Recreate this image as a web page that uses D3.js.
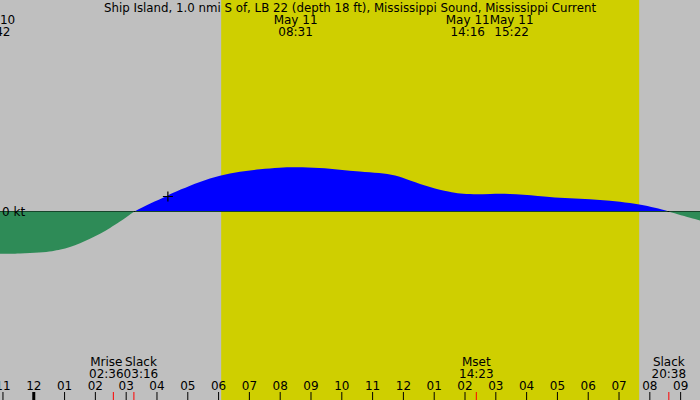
<!DOCTYPE html>
<html>
<head>
<meta charset="utf-8">
<script src="https://cdn.jsdelivr.net/npm/d3@7"></script>
<style>
  body { margin: 0; background: #bfbfbf; }
  svg text { font-family: "DejaVu Sans", sans-serif; font-size: 12px; fill: #000; }
</style>
</head>
<body>
<div id="chart"></div>
<script>
const width = 700;
const height = 400;

const title = "Ship Island, 1.0 nmi S of, LB 22 (depth 18 ft), Mississippi Sound, Mississippi Current";

// current in knots, time in hours from midnight May 11
const hours = [-1.08, -0.43, 0.22, 0.64, 0.87, 1.19, 1.52, 1.84, 2.17, 2.49, 2.82, 3.04, 3.27,
  3.79, 4.37, 4.76, 5.41, 6.06, 6.71, 7.36, 8.01, 8.52, 9.31, 9.95, 10.60, 11.25, 11.75,
  12.23, 12.88, 13.53, 13.85, 14.27, 14.85, 15.37, 16.45, 17.10, 17.75, 18.40, 19.05,
  19.70, 20.19, 20.63, 21.65];
const knots = [-0.423, -0.42, -0.41, -0.397, -0.383, -0.357, -0.32, -0.273, -0.223, -0.167, -0.10, -0.055, 0,
  0.08, 0.16, 0.217, 0.30, 0.36, 0.40, 0.423, 0.44, 0.444, 0.437, 0.417, 0.40, 0.385, 0.365,
  0.31, 0.243, 0.193, 0.178, 0.17, 0.175, 0.18, 0.155, 0.137, 0.127, 0.117, 0.10,
  0.07, 0.037, 0, -0.09];

// daylight
const sunrise = 6.1;   // 06:06
const sunset = 19.67;  // 19:40

// max/min current events (top labels)
const topDates = ["May 10", "May 11", "May 11", "May 11"];
const topTimes = ["22:42", "08:31", "14:16", "15:22"];

// other events (bottom labels)
const bottomNames = ["Mrise", "Slack", "Mset", "Slack"];
const bottomTimes = ["02:36", "03:16", "14:23", "20:38"];

// "now" marker
const nowTime = 4.37;
const nowKnots = 0.15;

const hourTicks = d3.range(-1, 22);

const toHours = (s) => {
  const [h, m] = s.split(":").map(Number);
  return h + m / 60;
};

const data = hours.map((h, i) => ({ h: h, v: knots[i] }));

const x = d3.scaleLinear().domain([-1.08, 21.645]).range([0, width]);
const y = d3.scaleLinear().domain([-1.885, 2.115]).range([height, 0]);
const y0 = y(0);

const svg = d3.select("#chart")
  .append("svg")
  .attr("width", width)
  .attr("height", height);

// background + daylight band
svg.append("rect")
  .attr("width", width)
  .attr("height", height)
  .attr("fill", "#bfbfbf");

svg.append("rect")
  .attr("x", x(sunrise))
  .attr("width", x(sunset) - x(sunrise))
  .attr("y", 0)
  .attr("height", height)
  .attr("fill", "#cfcf00");

const defs = svg.append("defs");
defs.append("clipPath").attr("id", "flood")
  .append("rect").attr("x", 0).attr("y", 0).attr("width", width).attr("height", y0);
defs.append("clipPath").attr("id", "ebb")
  .append("rect").attr("x", 0).attr("y", y0 - 0.5).attr("width", width).attr("height", height - y0);

const area = d3.area()
  .x((d) => x(d.h))
  .y0(y0)
  .y1((d) => y(d.v))
  .curve(d3.curveBasis);

svg.append("path")
  .datum(data)
  .attr("clip-path", "url(#flood)")
  .attr("fill", "#0000ff")
  .attr("d", area);

// zero line
svg.append("line")
  .attr("x1", 0)
  .attr("x2", width)
  .attr("y1", y0)
  .attr("y2", y0)
  .attr("stroke", "#000")
  .attr("stroke-width", 1);

svg.append("path")
  .datum(data)
  .attr("clip-path", "url(#ebb)")
  .attr("fill", "#2e8b57")
  .attr("d", area);

svg.append("text")
  .attr("x", 2)
  .attr("y", y0 + 4)
  .text("0 kt");

// now marker
svg.append("path")
  .attr("d", `M${x(nowTime) - 5},${y(nowKnots)}h10M${x(nowTime)},${y(nowKnots) - 5}v10`)
  .attr("stroke", "#000")
  .attr("stroke-width", 1.2)
  .attr("fill", "none");

// title
svg.append("text")
  .attr("x", width / 2)
  .attr("y", 12)
  .attr("text-anchor", "middle")
  .style("font-size", "11.8px")
  .text(title);

// two-line labels, pushed apart when they collide
function labelGroup(line1, line2, times, yTop) {
  const g = svg.append("g");
  const items = times.map((t, i) => {
    let h = toHours(t);
    if (line1[i] === "May 10") h -= 24;
    const lg = g.append("g");
    const a = lg.append("text").attr("y", yTop).attr("text-anchor", "middle").text(line1[i]);
    const b = lg.append("text").attr("y", yTop + 12).attr("text-anchor", "middle").text(line2[i]);
    const w = Math.max(a.node().getComputedTextLength(), b.node().getComputedTextLength());
    return { cx: x(h), w: w, node: lg };
  });
  for (let k = 0; k < 5; k++) {
    for (let i = 0; i < items.length - 1; i++) {
      const p = items[i], q = items[i + 1];
      const need = (p.w + q.w) / 2;
      const gap = q.cx - p.cx;
      if (gap < need) {
        p.cx -= (need - gap) / 2;
        q.cx += (need - gap) / 2;
      }
    }
  }
  items.forEach((d) => d.node.attr("transform", `translate(${d.cx},0)`));
}

labelGroup(topDates, topTimes, topTimes, 24);
labelGroup(bottomNames, bottomTimes, bottomTimes, 366);

// event ticks on the time axis
svg.append("g")
  .selectAll("line")
  .data(bottomTimes)
  .join("line")
  .attr("x1", (d) => x(toHours(d)))
  .attr("x2", (d) => x(toHours(d)))
  .attr("y1", 392)
  .attr("y2", 400)
  .attr("stroke", "#ff0000");

// hour axis
const fmtHour = (h) => {
  const v = ((h % 12) + 12) % 12 || 12;
  return String(v).padStart(2, "0");
};

const axis = svg.append("g")
  .attr("transform", `translate(0,${height})`)
  .call(d3.axisTop(x).tickValues(hourTicks).tickSize(8).tickPadding(2.5).tickFormat(fmtHour));

axis.select(".domain").remove();
axis.selectAll("text")
  .attr("font-family", null)
  .attr("font-size", null)
  .style("font-family", "'DejaVu Sans', sans-serif")
  .style("font-size", "12px");
axis.selectAll(".tick line")
  .attr("stroke", "#000")
  .attr("stroke-width", (d) => (d === 0 ? 3 : 1));
</script>
</body>
</html>
